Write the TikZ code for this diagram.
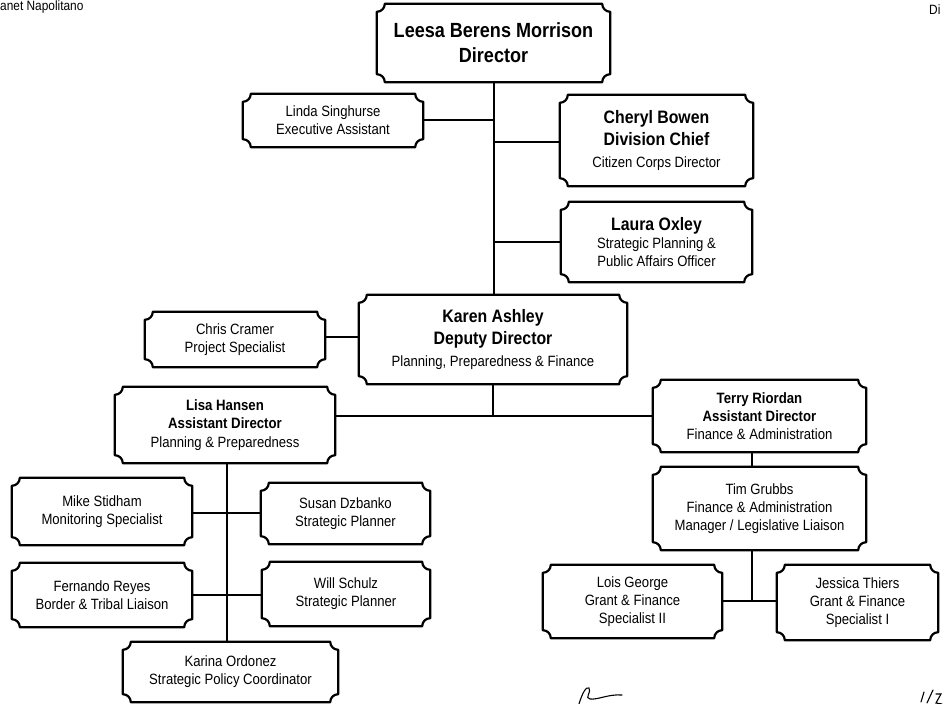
\documentclass[tikz,border=0pt]{standalone}
\usepackage{fontspec}
\setmainfont{Liberation Sans}[FakeStretch=0.88]
\newcommand\crad{8pt}
\newcommand\fr{\fontsize{14.9}{18.3}\selectfont\mdseries}
\newcommand\fbs{\fontsize{15}{18.3}\selectfont\bfseries}
\newcommand\fbm{\fontsize{18}{21.7}\selectfont\bfseries}
\newcommand\fbd{\fontsize{20.5}{25}\selectfont\bfseries}
\tikzset{
  ob/.style 2 args={minimum width=#1, minimum height=#2, inner sep=0pt, align=center, font=\fr},
  boxline/.style={line width=2.2pt, line join=round},
  conn/.style={line width=2pt},
}
\newcommand\scal[1]{\draw[boxline] ([xshift=\crad]#1.north west) -- ([xshift=-\crad]#1.north east)
  arc[start angle=180,end angle=270,radius=\crad] -- ([yshift=\crad]#1.south east)
  arc[start angle=90,end angle=180,radius=\crad] -- ([xshift=\crad]#1.south west)
  arc[start angle=0,end angle=90,radius=\crad] -- ([yshift=-\crad]#1.north west)
  arc[start angle=270,end angle=360,radius=\crad] -- cycle;}
\begin{document}
\begin{tikzpicture}[x=1pt,y=1pt]
\useasboundingbox (0,0) rectangle (943,704);
\fill[white] (0,0) rectangle (943,704);

% header fragments
\node[anchor=base west, inner sep=0pt, font=\fontsize{13.5}{15}\selectfont] (hl) at (0,693.5) {anet Napolitano};
\node[anchor=base west, inner sep=0pt, font=\fontsize{13.5}{15}\selectfont] (hr) at (929,689) {Di};

% boxes
\node[ob={233}{78}, font=\fbd] (dir) at (493.5,661) {Leesa Berens Morrison\\Director};
\node[ob={180}{53}] (linda) at (333,583.5) {Linda Singhurse\\Executive Assistant};
\node[ob={193}{91}, font=\fbm] (cheryl) at (656.5,563.5) {Cheryl Bowen\\Division Chief\\{\fr Citizen Corps Director}};
\node[ob={191}{80}] (laura) at (656.5,462) {{\fbm Laura Oxley}\\Strategic Planning \&\\Public Affairs Officer};
\node[ob={268}{89}, font=\fbm] (karen) at (493,364.5) {Karen Ashley\\Deputy Director\\{\fr Planning, Preparedness \& Finance}};
\node[ob={180}{55}] (chris) at (235,364.5) {Chris Cramer\\Project Specialist};
\node[ob={220}{76}] (lisa) at (225,279) {{\fbs Lisa Hansen}\\{\fbs Assistant Director}\\Planning \& Preparedness};
\node[ob={213}{72}] (terry) at (759.5,288) {{\fbs Terry Riordan}\\{\fbs Assistant Director}\\Finance \& Administration};
\node[ob={213}{83}] (tim) at (759.5,195.5) {Tim Grubbs\\Finance \& Administration\\Manager / Legislative Liaison};
\node[ob={180}{67}] (mike) at (102,192.5) {Mike Stidham\\Monitoring Specialist};
\node[ob={169}{61}] (susan) at (345.5,190.5) {Susan Dzbanko\\Strategic Planner};
\node[ob={180}{64}] (fernando) at (102,109) {Fernando Reyes\\Border \& Tribal Liaison};
\node[ob={168}{64}] (will) at (346,110) {Will Schulz\\Strategic Planner};
\node[ob={215}{60}] (karina) at (230.5,32) {Karina Ordonez\\Strategic Policy Coordinator};
\node[ob={179}{73}] (lois) at (632.5,102.5) {Lois George\\Grant \& Finance\\Specialist II};
\node[ob={161}{75}] (jessica) at (857.5,101.5) {Jessica Thiers\\Grant \& Finance\\Specialist I};

\foreach \n in {dir,linda,cheryl,laura,karen,chris,lisa,terry,tim,mike,susan,fernando,will,karina,lois,jessica}{\scal{\n}}

% connectors
\draw[conn] (dir.south) -- (dir.south |- karen.north);
\draw[conn] (linda.east) -- (linda.east -| dir.south);
\draw[conn] ([yshift=-1.5pt]cheryl.west) -- ([yshift=-1.5pt]cheryl.west -| dir.south);
\draw[conn] (laura.west) -- (laura.west -| dir.south);
\draw[conn] ([yshift=2.5pt]chris.east) -- ([yshift=2.5pt]chris.east -| karen.west);
\draw[conn] (karen.south) -- (karen.south |- terry.west);
\draw[conn] (terry.west -| lisa.east) -- (terry.west);
\draw[conn] ([xshift=-7.5pt]terry.south) coordinate (tt) -- (tt |- tim.north);
\draw[conn] ([xshift=-7.5pt]tim.south) coordinate (ts) -- (ts |- lois.east);
\draw[conn] (lois.east) -- (lois.east -| jessica.west);
\draw[conn] ([xshift=2pt]lisa.south) coordinate (ls) -- (ls |- karina.north);
\draw[conn] (susan.west -| mike.east) -- (susan.west);
\draw[conn] (fernando.east) -- (fernando.east -| will.west);

% handwritten marks
\draw[line width=1.1pt, line cap=round] (579,0) .. controls (582,10) and (586,18) .. (589,16) .. controls (592,12) and (584,6) .. (590,5) .. controls (598,4) and (608,10) .. (622,9);
\draw[line width=1.1pt, line cap=round] (921,2) -- (924,12);
\draw[line width=1.1pt, line cap=round] (927,1) -- (933,14);
\draw[line width=1.1pt, line cap=round] (936,10) -- (941,10) -- (936,1) -- (942,0);
\end{tikzpicture}
\end{document}
